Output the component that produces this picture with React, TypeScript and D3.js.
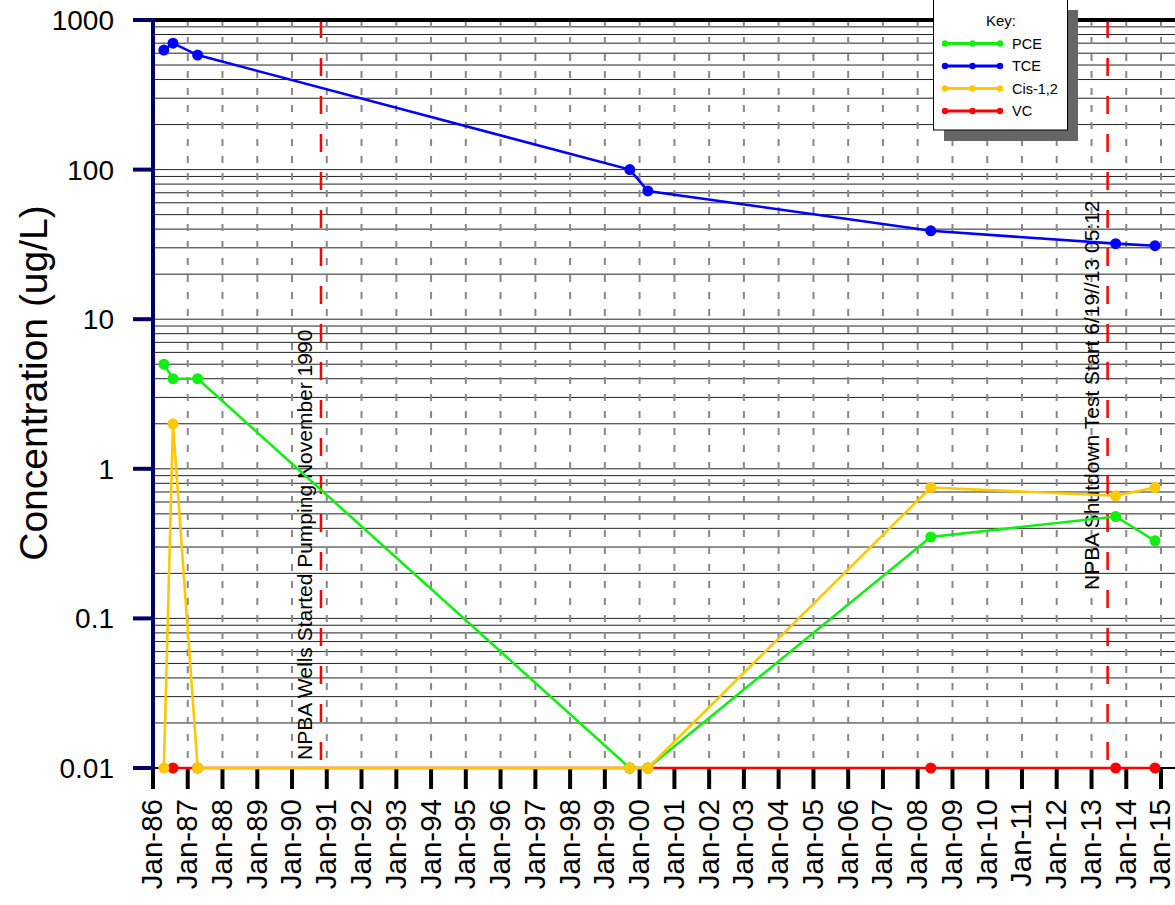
import * as d3 from "d3";

const dates = [
  "1986-04-25",
  "1986-07-30",
  "1987-04-15",
  "1999-09-20",
  "2000-03-28",
  "2008-05-18",
  "2013-09-12",
  "2014-10-30",
];

const pce = [5, 4, 4, 0.01, 0.01, 0.35, 0.48, 0.33];
const tce = [630, 700, 583, 100, 72, 39, 32, 31];
const cis = [0.01, 2, 0.01, 0.01, 0.01, 0.75, 0.66, 0.75];
const vc = [null, 0.01, 0.01, 0.01, 0.01, 0.01, 0.01, 0.01];

const seriesNames = ["PCE", "TCE", "Cis-1,2", "VC"];
const seriesColors = ["#11ee11", "#0000ff", "#ffc800", "#ff0000"];
// draw order: VC underneath, Cis on top
const drawOrder = [3, 0, 1, 2];

const yTickValues = [0.01, 0.1, 1, 10, 100, 1000];
const yTickLabels = ["0.01", "0.1", "1", "10", "100", "1000"];
const xYears = d3.range(1986, 2016);

const events = [
  { date: "1990-11-01", label: "NPBA Wells Started Pumping November 1990", top: 0 },
  { date: "2013-06-19", label: "NPBA Shutdown Test Start 6/19//13 05:12", top: 1 },
];

const FONT = "'Liberation Sans', Arial, sans-serif";
const W = 1175;
const H = 905;

const Chart = () => {
  const parse = d3.timeParse("%Y-%m-%d");
  const x = d3
    .scaleTime()
    .domain([new Date(1986, 0, 1), new Date(2015, 0, 1)])
    .range([153, 1161]);
  const y = d3.scaleLog().domain([0.01, 1000]).range([768, 20]);

  const left = 153;
  const bottom = 768;
  const top = 20;

  const allSeries = [pce, tce, cis, vc];
  const line = d3
    .line<{ d: Date; v: number | null }>()
    .defined((p) => p.v != null)
    .x((p) => x(p.d))
    .y((p) => y(p.v as number));

  const gridVals: number[] = [];
  for (let k = -2; k <= 2; k++) {
    for (let m = 1; m <= 9; m++) gridVals.push(m * Math.pow(10, k));
  }

  return (
    <svg
      width={W}
      height={H}
      style={{ position: "absolute", left: 0, top: 0, background: "#fff" }}
    >
      {/* horizontal grid */}
      {gridVals.map((v) => (
        <line
          key={"h" + v}
          x1={left}
          x2={W}
          y1={y(v)}
          y2={y(v)}
          stroke="#222"
          strokeWidth={1}
        />
      ))}

      {/* vertical dashed grid */}
      {xYears.slice(1).map((yr) => (
        <line
          key={"v" + yr}
          x1={x(new Date(yr, 0, 1))}
          x2={x(new Date(yr, 0, 1))}
          y1={top}
          y2={bottom}
          stroke="#888"
          strokeWidth={2}
          strokeDasharray="7,10"
        />
      ))}

      {/* event lines */}
      {events.map((e) => {
        const ex = x(parse(e.date) as Date);
        return (
          <g key={e.label}>
            <line
              x1={ex}
              x2={ex}
              y1={top}
              y2={bottom}
              stroke="#ff0000"
              strokeWidth={2.5}
              strokeDasharray="18,20"
            />
            <text
              transform={`translate(${ex - 9},${e.top ? 590 : 760}) rotate(-90)`}
              fontFamily={FONT}
              fontSize={21}
              fill="#000"
            >
              {e.label}
            </text>
          </g>
        );
      })}

      {/* top border */}
      <line x1={left} x2={W} y1={top} y2={top} stroke="#000" strokeWidth={4} />
      {/* bottom axis line */}
      <line x1={left} x2={W} y1={bottom} y2={bottom} stroke="#000" strokeWidth={2} />

      {/* x ticks */}
      {xYears.map((yr) => {
        const tx = x(new Date(yr, 0, 1));
        return (
          <g key={"xt" + yr}>
            <line x1={tx} x2={tx} y1={bottom} y2={789} stroke="#000" strokeWidth={4} />
            <text
              transform={`translate(${tx},799) rotate(-90)`}
              textAnchor="end"
              dy="0.32em"
              fontFamily={FONT}
              fontSize={29.5}
              fill="#000"
            >
              {"Jan-" + String(yr).slice(2)}
            </text>
          </g>
        );
      })}

      {/* data */}
      {drawOrder.map((si) => {
        const pts = dates.map((d, i) => ({ d: parse(d) as Date, v: allSeries[si][i] }));
        return (
          <g key={seriesNames[si]}>
            <path d={line(pts) || ""} fill="none" stroke={seriesColors[si]} strokeWidth={2.6} />
            {pts
              .filter((p) => p.v != null)
              .map((p, i) => (
                <circle
                  key={i}
                  cx={x(p.d)}
                  cy={y(p.v as number)}
                  r={5.5}
                  fill={seriesColors[si]}
                />
              ))}
          </g>
        );
      })}

      {/* left axis */}
      <line x1={left} x2={left} y1={top - 2} y2={bottom + 2} stroke="#000066" strokeWidth={4} />
      {yTickValues.map((v, i) => (
        <g key={"yt" + v}>
          <line x1={133} x2={left} y1={y(v)} y2={y(v)} stroke="#000066" strokeWidth={4} />
          <text
            x={114}
            y={y(v)}
            dy="0.36em"
            textAnchor="end"
            fontFamily={FONT}
            fontSize={28}
            fill="#000"
          >
            {yTickLabels[i]}
          </text>
        </g>
      ))}

      {/* y title */}
      <text
        transform="translate(47,383) rotate(-90)"
        textAnchor="middle"
        fontFamily={FONT}
        fontSize={39}
        fill="#000"
      >
        Concentration (ug/L)
      </text>

      {/* legend */}
      <rect x={944} y={10} width={134} height={131} fill="#666" />
      <rect x={933.5} y={-1} width={134} height={131} fill="#fff" stroke="#000" strokeWidth={1} />
      <text x={1001} y={26} textAnchor="middle" fontFamily={FONT} fontSize={15} fill="#000">
        Key:
      </text>
      {seriesNames.map((name, i) => {
        const ly = 43.5 + i * 22.5;
        return (
          <g key={"lg" + name}>
            <line x1={945} x2={1000} y1={ly} y2={ly} stroke={seriesColors[i]} strokeWidth={3} />
            {[945, 972.5, 1000].map((cx) => (
              <circle key={cx} cx={cx} cy={ly} r={3.2} fill={seriesColors[i]} />
            ))}
            <text x={1012} y={ly} dy="0.36em" fontFamily={FONT} fontSize={14.5} fill="#000">
              {name}
            </text>
          </g>
        );
      })}
    </svg>
  );
};

export default function App() {
  return <Chart />;
}
